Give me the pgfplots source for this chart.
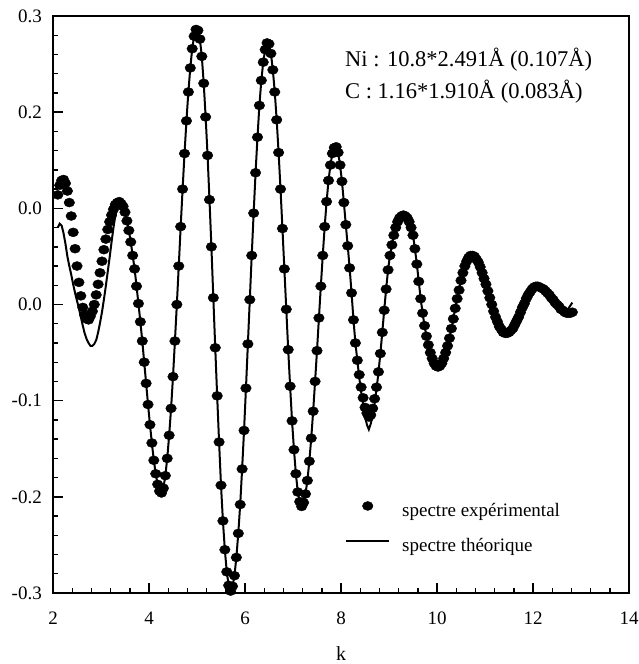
\documentclass[border=0pt]{standalone}
\usepackage{fontspec}
\setmainfont{Liberation Serif}
\usepackage{pgfplots}
\usepackage{pgfplotstable}
\pgfplotsset{compat=1.18}
\pgfplotsset{
  dotlegend/.style={legend image code/.code={\draw[##1] plot coordinates {(21.5pt,6pt)};}},
  linelegend/.style={legend image code/.code={\draw[##1] (0pt,6pt) -- (43pt,6pt);}},
}
\pgfplotstableread{
k e t
2.10 0.114 0.080
2.14 0.124 0.084
2.18 0.129 0.082
2.22 0.130 0.074
2.26 0.126 0.063
2.30 0.118 0.050
2.34 0.106 0.040
2.38 0.092 0.031
2.42 0.075 0.021
2.46 0.058 0.012
2.50 0.040 0.004
2.54 0.023 -0.004
2.58 0.009 -0.013
2.62 -0.003 -0.022
2.66 -0.011 -0.030
2.70 -0.015 -0.036
2.74 -0.016 -0.040
2.78 -0.012 -0.043
2.82 -0.007 -0.043
2.86 0.000 -0.041
2.90 0.010 -0.037
2.94 0.021 -0.029
2.98 0.033 -0.019
3.02 0.045 -0.008
3.06 0.057 0.005
3.10 0.068 0.019
3.14 0.078 0.034
3.18 0.086 0.049
3.22 0.093 0.065
3.26 0.099 0.080
3.30 0.104 0.093
3.34 0.106 0.102
3.38 0.107 0.106
3.42 0.105 0.105
3.46 0.102 0.102
3.50 0.096 0.096
3.54 0.087 0.087
3.58 0.077 0.077
3.62 0.065 0.065
3.66 0.051 0.051
3.70 0.037 0.037
3.74 0.019 0.019
3.78 0.001 0.001
3.82 -0.018 -0.018
3.86 -0.038 -0.038
3.90 -0.060 -0.060
3.94 -0.082 -0.082
3.98 -0.104 -0.104
4.02 -0.125 -0.125
4.06 -0.144 -0.144
4.10 -0.162 -0.162
4.14 -0.176 -0.176
4.18 -0.187 -0.187
4.22 -0.194 -0.194
4.26 -0.196 -0.196
4.30 -0.191 -0.191
4.34 -0.178 -0.178
4.38 -0.160 -0.160
4.42 -0.136 -0.136
4.46 -0.108 -0.108
4.50 -0.075 -0.075
4.54 -0.038 -0.038
4.58 0.000 0.000
4.62 0.040 0.040
4.66 0.081 0.081
4.70 0.120 0.120
4.74 0.157 0.157
4.78 0.191 0.191
4.82 0.221 0.221
4.86 0.246 0.246
4.90 0.266 0.266
4.94 0.279 0.279
4.98 0.286 0.286
5.02 0.285 0.285
5.06 0.276 0.276
5.10 0.258 0.258
5.14 0.230 0.230
5.18 0.195 0.195
5.22 0.155 0.155
5.26 0.109 0.109
5.30 0.060 0.060
5.34 0.007 0.007
5.38 -0.045 -0.045
5.42 -0.095 -0.095
5.46 -0.143 -0.143
5.50 -0.188 -0.188
5.54 -0.225 -0.225
5.58 -0.255 -0.255
5.62 -0.278 -0.278
5.66 -0.292 -0.292
5.70 -0.298 -0.298
5.74 -0.293 -0.293
5.78 -0.282 -0.282
5.82 -0.263 -0.263
5.86 -0.238 -0.238
5.90 -0.208 -0.208
5.94 -0.171 -0.171
5.98 -0.131 -0.131
6.02 -0.087 -0.087
6.06 -0.041 -0.041
6.10 0.005 0.005
6.14 0.051 0.051
6.18 0.095 0.095
6.22 0.137 0.137
6.26 0.174 0.174
6.30 0.207 0.207
6.34 0.233 0.233
6.38 0.252 0.252
6.42 0.265 0.265
6.46 0.272 0.272
6.50 0.271 0.271
6.54 0.261 0.261
6.58 0.244 0.244
6.62 0.221 0.221
6.66 0.192 0.192
6.70 0.158 0.158
6.74 0.120 0.120
6.78 0.079 0.079
6.82 0.037 0.037
6.86 -0.005 -0.005
6.90 -0.047 -0.047
6.94 -0.085 -0.085
6.98 -0.121 -0.121
7.02 -0.151 -0.151
7.06 -0.176 -0.176
7.10 -0.195 -0.195
7.14 -0.205 -0.205
7.18 -0.210 -0.210
7.22 -0.206 -0.206
7.26 -0.197 -0.197
7.30 -0.183 -0.183
7.34 -0.163 -0.163
7.38 -0.139 -0.139
7.42 -0.111 -0.111
7.46 -0.080 -0.080
7.50 -0.048 -0.048
7.54 -0.014 -0.014
7.58 0.019 0.019
7.62 0.051 0.051
7.66 0.081 0.081
7.70 0.107 0.107
7.74 0.129 0.129
7.78 0.145 0.145
7.82 0.157 0.157
7.86 0.163 0.163
7.90 0.164 0.164
7.94 0.158 0.158
7.98 0.145 0.145
8.02 0.128 0.128
8.06 0.106 0.106
8.10 0.083 0.083
8.14 0.061 0.061
8.18 0.038 0.038
8.22 0.012 0.012
8.26 -0.016 -0.016
8.30 -0.040 -0.040
8.34 -0.058 -0.058
8.38 -0.073 -0.076
8.42 -0.086 -0.091
8.46 -0.097 -0.104
8.50 -0.107 -0.116
8.54 -0.113 -0.125
8.58 -0.117 -0.130
8.62 -0.115 -0.124
8.66 -0.108 -0.115
8.70 -0.098 -0.103
8.74 -0.086 -0.088
8.78 -0.070 -0.071
8.82 -0.051 -0.051
8.86 -0.029 -0.029
8.90 -0.006 -0.006
8.94 0.016 0.016
8.98 0.036 0.036
9.02 0.051 0.051
9.06 0.062 0.062
9.10 0.072 0.072
9.14 0.080 0.080
9.18 0.086 0.086
9.22 0.090 0.090
9.26 0.092 0.092
9.30 0.093 0.093
9.34 0.092 0.092
9.38 0.090 0.090
9.42 0.086 0.086
9.46 0.080 0.080
9.50 0.072 0.072
9.54 0.058 0.058
9.58 0.042 0.042
9.62 0.024 0.024
9.66 0.006 0.006
9.70 -0.009 -0.009
9.74 -0.022 -0.022
9.78 -0.033 -0.033
9.82 -0.042 -0.042
9.86 -0.050 -0.050
9.90 -0.056 -0.056
9.94 -0.061 -0.061
9.98 -0.064 -0.064
10.02 -0.065 -0.065
10.06 -0.064 -0.064
10.10 -0.061 -0.061
10.14 -0.056 -0.056
10.18 -0.050 -0.050
10.22 -0.043 -0.043
10.26 -0.035 -0.035
10.30 -0.025 -0.025
10.34 -0.015 -0.015
10.38 -0.004 -0.004
10.42 0.006 0.006
10.46 0.015 0.015
10.50 0.025 0.025
10.54 0.033 0.033
10.58 0.040 0.040
10.62 0.045 0.045
10.66 0.049 0.049
10.70 0.051 0.051
10.74 0.051 0.051
10.78 0.050 0.050
10.82 0.047 0.047
10.86 0.044 0.044
10.90 0.039 0.039
10.94 0.033 0.033
10.98 0.027 0.027
11.02 0.021 0.021
11.06 0.014 0.014
11.10 0.007 0.007
11.14 0.000 0.000
11.18 -0.007 -0.007
11.22 -0.013 -0.013
11.26 -0.018 -0.018
11.30 -0.023 -0.023
11.34 -0.026 -0.026
11.38 -0.029 -0.029
11.42 -0.030 -0.030
11.46 -0.030 -0.030
11.50 -0.029 -0.029
11.54 -0.027 -0.027
11.58 -0.025 -0.025
11.62 -0.021 -0.021
11.66 -0.017 -0.017
11.70 -0.013 -0.013
11.74 -0.008 -0.008
11.78 -0.003 -0.003
11.82 0.001 0.001
11.86 0.006 0.006
11.90 0.010 0.010
11.94 0.013 0.013
11.98 0.016 0.016
12.02 0.018 0.018
12.06 0.019 0.019
12.10 0.019 0.019
12.14 0.018 0.018
12.18 0.017 0.017
12.22 0.016 0.016
12.26 0.014 0.014
12.30 0.012 0.012
12.34 0.010 0.010
12.38 0.007 0.007
12.42 0.005 0.005
12.46 0.002 0.002
12.50 0.000 0.000
12.54 -0.002 -0.002
12.58 -0.005 -0.005
12.62 -0.006 -0.006
12.66 -0.008 -0.008
12.70 -0.009 -0.007
12.74 -0.009 -0.004
12.78 -0.009 -0.001
12.82 -0.008 0.002
}\datatable
\begin{document}
\begin{tikzpicture}
\useasboundingbox (-53pt,-71pt) rectangle (586pt,593pt);
\begin{axis}[
  scale only axis,
  width=576pt, height=577pt,
  xmin=2, xmax=14, ymin=-0.3, ymax=0.3,
  clip=false,
  axis line style={line width=1.6pt},
  tick style={line width=1.4pt, black},
  tick align=inside,
  tick pos=left,
  major tick length=10pt,
  minor tick length=5pt,
  xtick={2,4,6,8,10,12,14},
  xticklabels={2,4,6,8,10,12,14},
  minor x tick num=4,
  ytick={-0.3,-0.2,-0.1,0,0.1,0.2,0.3},
  yticklabels={-0.3,-0.2,-0.1,0.0,0.0,0.2,0.3},
  minor y tick num=4,
  tick label style={font=\fontsize{19}{22}\selectfont},
  xticklabel style={anchor=base, yshift=-31pt, inner sep=0pt},
  yticklabel style={anchor=east, xshift=-11pt, inner sep=0pt},
  xlabel={k},
  xlabel style={at={(rel axis cs:0.5,0)}, anchor=base, yshift=-67pt, font=\fontsize{20}{24}\selectfont, inner sep=0pt},
  legend cell align=left,
  legend style={draw=none, fill=none, at={(rel axis cs:0.507,0.159)}, anchor=north west,
    inner sep=0pt, row sep=16pt, column sep=12pt,
    font=\fontsize{19}{22}\selectfont,
    nodes={inner sep=0pt, text height=14pt, text depth=5pt}},
]
\addplot[only marks, mark=*, mark size=5.3pt, mark options={yscale=0.85, fill=black, draw=black}, black, dotlegend]
  table[x=k, y=e] {\datatable};
\addlegendentry{spectre expérimental}
\addplot[black, line width=2pt, no marks, linelegend]
  table[x=k, y=t] {\datatable};
\addlegendentry{spectre théorique}
\node[anchor=west, inner sep=0pt, font=\fontsize{22.5}{26}\selectfont] at (rel axis cs:0.507,0.924) {Ni : 10.8*2.491Å (0.107Å)};
\node[anchor=west, inner sep=0pt, font=\fontsize{22.5}{26}\selectfont] at (rel axis cs:0.507,0.869) {C : 1.16*1.910Å (0.083Å)};
\end{axis}
\end{tikzpicture}
\end{document}
